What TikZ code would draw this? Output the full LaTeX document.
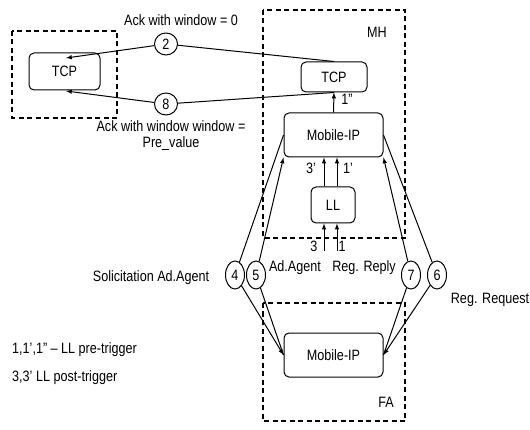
\documentclass[tikz,border=0pt]{standalone}
\usepackage{fontspec}
\setmainfont[FakeStretch=0.84]{Liberation Sans}
\usetikzlibrary{shapes}
\usetikzlibrary{arrows}
\usetikzlibrary{calc}

\tikzset{
    box/.style={draw, rounded corners=5pt, line width=1pt, inner sep=0pt},
    region/.style={draw, line width=1.3pt, dash pattern=on 5pt off 3.5pt},
    num/.style={draw, ellipse, line width=1pt, inner sep=0pt,
        minimum width=19pt, minimum height=28pt},
    link/.style={line width=1pt, -latex},
}

\begin{document}
\begin{tikzpicture}[
    x=1pt, y=-1pt,
    font=\fontsize{15}{16}\selectfont]

    \useasboundingbox (0,0) rectangle (530,430);

    % correspondent host
    \draw[region] (12,31) rectangle (117,118);
    \node[box, minimum width=71pt, minimum height=37pt] (tcpch) at (64.5,71.5) {TCP};

    % mobile host
    \draw[region] (263,10) rectangle (405,238);
    \node (mh) at (377,32) {MH};
    \node[box, minimum width=66pt, minimum height=30pt] (tcpmh) at (334,77) {TCP};
    \node[box, minimum width=99pt, minimum height=44pt] (mipmh) at (333.5,135) {Mobile-IP};
    \node[box, minimum width=44pt, minimum height=36pt] (ll) at (333,205) {LL};

    % foreign agent
    \draw[region] (263,303) rectangle (405,421);
    \node (fa) at (386,402) {FA};
    \node[box, minimum width=99pt, minimum height=44pt] (mipfa) at (333.5,355) {Mobile-IP};

    % message numbers
    \node[num, minimum width=23pt, minimum height=22pt] (m2) at (166,44) {2};
    \node[num, minimum width=23pt, minimum height=22pt] (m8) at (166,104) {8};
    \node[num] (m4) at (235,275) {4};
    \node[num] (m5) at (256,275) {5};
    \node[num] (m7) at (411,275) {7};
    \node[num] (m6) at (437,275) {6};

    % window advertisements to the fixed host
    \coordinate (ackin) at (66,58);
    \coordinate (ackout) at (66,91);
    \draw[link] (tcpmh.north) -- (m2) -- (ackin);
    \draw[link] (tcpmh.south) -- (m8) -- (ackout);
    \node (ackzero) at (181,20) {Ack with window = 0};
    \node[align=center] (ackpre) at (171,136) {Ack with window window =\\ Pre\_value};

    % trigger chain inside the mobile host
    \draw[link] (mipmh.north) -- (tcpmh.south);
    \node (lbl1b) at (347,99) {1”};
    \draw[link] ([xshift=-9pt]ll.north) -- ([xshift=-9.5pt]mipmh.south);
    \draw[link] ([xshift=4pt]ll.north) -- ([xshift=3.5pt]mipmh.south);
    \node (lbl3a) at (311,168) {3’};
    \node (lbl1a) at (348,168) {1’};
    \coordinate (trig3) at (324,251);
    \coordinate (trig1) at (337,251);
    \draw[link] (trig3) -- ([xshift=-9pt]ll.south);
    \draw[link] (trig1) -- ([xshift=4pt]ll.south);
    \node (lbl3) at (314,246) {3};
    \node (lbl1) at (342,246) {1};

    % agent discovery and registration
    \draw[link] (mipmh.west) -- (m4) -- (mipfa.west);
    \draw[link] (mipfa.west) -- (m5) -- (mipmh.south west);
    \draw[link] (mipfa.east) -- (m7) -- (mipmh.south east);
    \draw[link] (mipmh.east) -- (m6) -- (mipfa.east);
    \node (solicit) at (151,278) {Solicitation Ad.Agent};
    \node (advert) at (295,268) {Ad.Agent};
    \node (reply) at (364,268) {Reg. Reply};
    \node (request) at (490,300) {Reg. Request};

    % legend
    \node[anchor=west, inner sep=0pt] (pre) at (12,350) {1,1’,1” – LL pre-trigger};
    \node[anchor=west, inner sep=0pt] (post) at (12,378) {3,3’ LL post-trigger};

\end{tikzpicture}
\end{document}
